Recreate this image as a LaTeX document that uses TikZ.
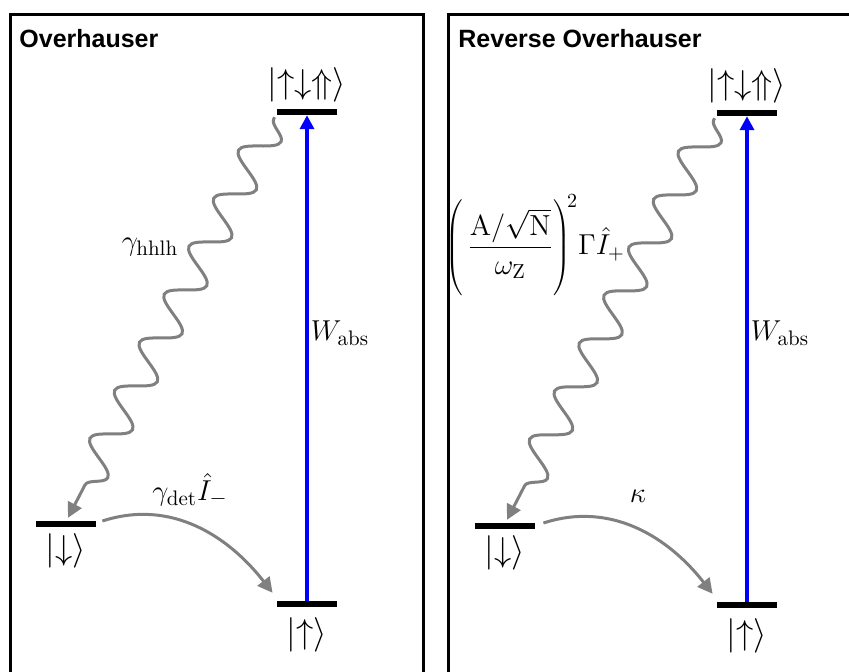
\documentclass[tikz,border=0pt]{standalone}
\usepackage{fontspec}
\newfontfamily\headfont{Liberation Sans}
\usepackage{tikz}
\usetikzlibrary{arrows.meta, positioning, decorations.pathmorphing}
\tikzset{
    panel/.style={draw=black, line width=1.5pt},
    title/.style={font=\headfont\bfseries\fontsize{12.5}{14}\selectfont, anchor=base west, inner sep=0pt},
    statebar/.style={fill=black, minimum width=30pt, minimum height=2.8pt, inner sep=0pt},
    ket/.style={font=\fontsize{18}{20}\selectfont, inner sep=1pt},
    rate/.style={font=\fontsize{15}{17}\selectfont, inner sep=1pt},
    pump/.style={draw=blue, line width=2.2pt, -{Triangle[length=7pt,width=7pt]}},
    relax/.style={draw=black!50, line width=1.5pt, -{Triangle[length=7.5pt,width=7.5pt]}},
    decay/.style={relax, decorate, decoration={snake, amplitude=8.5pt, segment length=27pt, pre length=1pt, post length=10pt}}
}

\begin{document}
\begin{tikzpicture}[x=0.5pt, y=-0.5pt]
        \clip (0,0) rectangle (849,671);
        % Panels
        \draw[panel] (10,14) rectangle (423,700);
        \draw[panel] (448,14) rectangle (880,700);
        \node[title] (ohtitle) at (19,47) {Overhauser};
        \node[title] (rotitle) at (458,47) {Reverse Overhauser};

        % Levels, Overhauser
        \node[statebar] (ltop) at (307,112) {};
        \node[statebar] (lup) at (307,604) {};
        \node[statebar] (ldown) at (66,524) {};
        \node[ket, above=2pt of ltop] (ltopket) {$|{\uparrow}{\downarrow}{\Uparrow}\rangle$};
        \node[ket, below=4pt of lup] (lupket) {$|{\uparrow}\rangle$};
        \node[ket, below=2pt of ldown] (ldownket) {$|{\downarrow}\rangle$};

        % Levels, reverse Overhauser
        \node[statebar] (rtop) at (747,113) {};
        \node[statebar] (rup) at (747,605) {};
        \node[statebar] (rdown) at (505,526) {};
        \node[ket, above=2pt of rtop] (rtopket) {$|{\uparrow}{\downarrow}{\Uparrow}\rangle$};
        \node[ket, below=4pt of rup] (rupket) {$|{\uparrow}\rangle$};
        \node[ket, below=2pt of rdown] (rdownket) {$|{\downarrow}\rangle$};

        % Rates
        \node[rate] (lwabs) at (340,333) {$W_{\mathrm{abs}}$};
        \node[rate] (rwabs) at (780,333) {$W_{\mathrm{abs}}$};
        \node[rate] (lhhlh) at (150,247) {$\gamma_{\mathrm{hhlh}}$};
        \node[rate] (ldet) at (190,490) {$\gamma_{\mathrm{det}}\hat{I}_{-}$};
        \node[rate] (rkappa) at (638,496) {$\kappa$};
        \node[rate, font=\fontsize{14.5}{17}\selectfont] (rflip) at (535,245)
            {$\left(\rule[-20pt]{0pt}{43pt}\,{\displaystyle\frac{\mathrm{A}/\sqrt{\mathrm{N}}}{\omega_{\mathrm{Z}}}}\right)^{\!2}\!\Gamma\hat{I}_{+}$};

        % Arrows
        \draw[pump] (lup.north) -- (ltop.south);
        \draw[pump] (rup.north) -- (rtop.south);
        \draw[decay] ([xshift=-1pt,yshift=-1pt]ltop.south west) -- ([xshift=1pt,yshift=1.5pt]ldown.north);
        \draw[decay] ([xshift=-1pt,yshift=-1pt]rtop.south west) -- ([xshift=1pt,yshift=1.5pt]rdown.north);
        \draw[relax] ([xshift=3pt,yshift=1.5pt]ldown.east) to[out=18,in=128] ([xshift=-2pt,yshift=4pt]lup.north west);
        \draw[relax] ([xshift=4pt,yshift=1.5pt]rdown.east) to[out=18,in=128] ([xshift=-2pt,yshift=4pt]rup.north west);
    \end{tikzpicture}
\end{document}
